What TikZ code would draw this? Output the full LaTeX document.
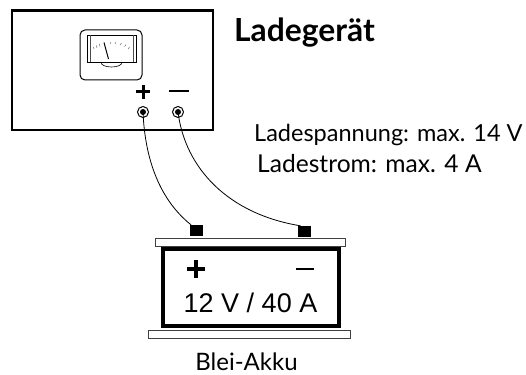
\documentclass[tikz,border=0pt]{standalone}
\usepackage{fontspec}
\setmainfont{Lato}
\newfontfamily\arialf{Liberation Sans}
\tikzset{
  hand/.style={inner sep=0pt,anchor=base west,text=black},
  terminalring/.style={circle,draw=black,line width=1pt,minimum size=11pt,inner sep=0pt},
  postblock/.style={rectangle,fill=black,inner sep=0pt,minimum width=13pt,minimum height=11pt},
  wire/.style={line width=0.8pt,draw=black},
  slab/.style={draw=black!75,line width=0.8pt,fill=white},
  tick/.style={line width=0.4pt,draw=black!70}
}
\begin{document}
\begin{tikzpicture}[x=1pt,y=-1pt]
\useasboundingbox (0,0) rectangle (526,374);
% charger
\draw[line width=2.6pt,line join=miter] (12,10.5) rectangle (213,130);
% meter
\draw[line width=1pt,rounded corners=5pt] (80,30) rectangle (142,80);
\draw[line width=0.8pt] (87,35) rectangle (136,62.5);
\draw[line width=0.5pt,draw=black!70] (90,35) -- (90,62.5) (133.5,35) -- (133.5,62.5);
\draw[line width=0.6pt] (101,62.5) arc[start angle=180,end angle=0,x radius=10.5,y radius=4.5];
\draw[line width=1pt] (108.5,59) -- (104,42.5);
\foreach \a/\b/\c/\d in {94/49/93.5/47,97/48/96.5/45.5,100/46.5/99.5/44,110/44/111/42,115/44/116/42,120/45/121.5/43,124.5/46.5/126/44.5,128/49/129.5/47}{
  \draw[tick] (\a,\b) -- (\c,\d);
}
% charger signs
\draw[line width=3pt] (136,92) -- (150,92) (143,85) -- (143,99);
\draw[line width=2.2pt] (169,91) -- (189,91);
% terminals
\node[terminalring] (tplus) at (143,112) {};
\node[terminalring] (tminus) at (178,112) {};
\fill[black] (tplus) circle (3pt);
\fill[black] (tminus) circle (3pt);
% battery
\node[postblock] (pplus) at (196,230.5) {};
\node[postblock] (pminus) at (304.5,231.5) {};
\draw[slab] (155.5,238.5) rectangle (345,246.5);
\draw[line width=4pt] (163,249) rectangle (338.5,326);
\draw[slab] (148.5,330.5) rectangle (350.5,338);
\draw[line width=4.2pt] (187,269) -- (205,269) (196,260) -- (196,278);
\draw[line width=2.2pt] (296,269) -- (314,269);
% wires
\draw[wire] (tplus.center) .. controls (145,160) and (160,200) .. ([xshift=-5pt]pplus.north);
\draw[wire] (tminus.center) .. controls (185,168) and (228,214) .. ([xshift=-4pt]pminus.north);
% text
\node[hand] (title) at (234,42) {\fontsize{31.8}{36}\selectfont\bfseries Ladegerät};
\node[hand] (spec1) at (254,141) {\fontsize{23.5}{28}\selectfont Ladespannung: max. 14 V};
\node[hand] (spec2) at (257,172) {\fontsize{24.6}{28}\selectfont Ladestrom: max. 4 A};
\node[inner sep=0pt,anchor=base] (rating) at (250.5,312) {\arialf\fontsize{27}{30}\selectfont 12 V / 40 A};
\node[inner sep=0pt,anchor=base] (label) at (246.5,370) {\fontsize{24}{28}\selectfont Blei-Akku};
\end{tikzpicture}
\end{document}
